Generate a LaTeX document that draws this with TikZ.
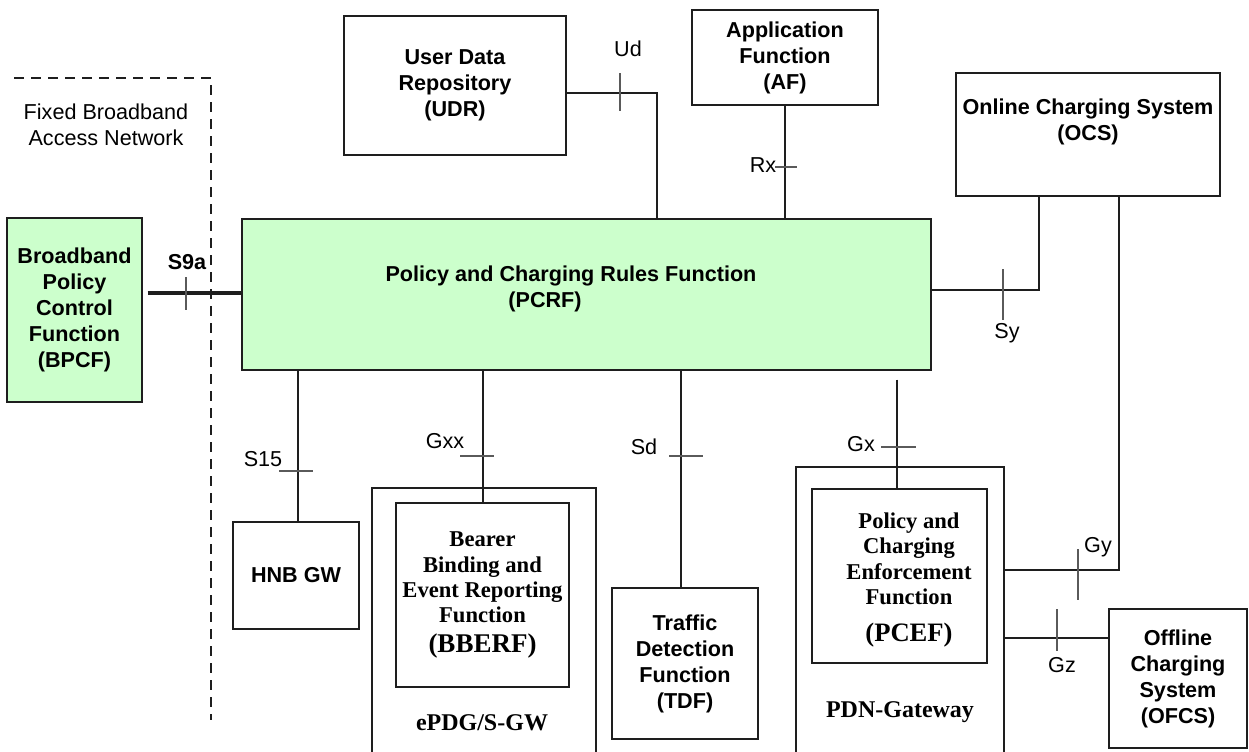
\documentclass[tikz,border=0pt]{standalone}
\usepackage{fontspec}
\setmainfont{Liberation Sans}
\newfontfamily\tms{Liberation Serif}
\definecolor{pcrfgruen}{RGB}{204,255,204}
\definecolor{linie}{RGB}{30,30,30}
\definecolor{strich}{RGB}{90,90,90}
\newdimen\pxu \pxu=0.5pt

\begin{document}
\begin{tikzpicture}[x=0.5pt, y=-0.5pt,
    box/.style={draw=linie, line width=0.7pt, inner sep=0pt, align=center, font=\bfseries\fontsize{10.8}{13}\selectfont},
    gruenbox/.style={box, fill=pcrfgruen},
    tmsbox/.style={box, font=\tms\bfseries\fontsize{11.3}{12.7}\selectfont},
    boxtext/.style={inner sep=0pt, align=center, font=\bfseries\fontsize{10.8}{13}\selectfont},
    tmstext/.style={inner sep=0pt, font=\tms\bfseries\fontsize{12}{14}\selectfont},
    ref/.style={inner sep=0pt, align=center, font=\fontsize{10.8}{13}\selectfont},
    conn/.style={draw=linie, line width=0.7pt},
    tick/.style={draw=strich, line width=0.6pt}]
    \useasboundingbox (0,0) rectangle (1249,751);

    % Fixed Broadband Access Network
    \draw[linie, line width=0.7pt, dash pattern=on 5pt off 3.5pt] (14,78) -- (211,78) -- (211,720);
    \node[ref] (fban) at (106,125) {Fixed Broadband\\Access Network};

    \node[gruenbox, minimum width=135\pxu, minimum height=184\pxu] (bpcf) at (74.5,310) {Broadband\\Policy\\Control\\Function\\(BPCF)};

    \node[gruenbox, minimum width=689\pxu, minimum height=151\pxu] (pcrf) at (586.5,294.5) {};
    \node[boxtext] (pcrftxt) at (571,289) {Policy and Charging Rules Function\\(PCRF)\hspace*{52\pxu}};

    % obere Reihe
    \node[box, minimum width=222\pxu, minimum height=139\pxu] (udr) at (455,85.5) {User Data\\Repository\\(UDR)};
    \node[box, minimum width=186\pxu, minimum height=95\pxu] (af) at (785,57.5) {Application\\Function\\(AF)};
    \node[box, minimum width=264\pxu, minimum height=123\pxu] (ocs) at (1088,134.5) {};
    \node[boxtext] (ocstxt) at (1088,121.5) {Online Charging System\\(OCS)};

    % untere Reihe
    \node[box, minimum width=126\pxu, minimum height=107\pxu] (hnb) at (296,575.5) {HNB GW};

    \node[box, minimum width=224\pxu, minimum height=292\pxu] (epdg) at (484,634) {};
    \node[tmstext] (epdgtxt) at (482,723) {ePDG/S-GW};
    \node[tmsbox, minimum width=173\pxu, minimum height=184\pxu] (bberf) at (482.5,595) {Bearer\\Binding and\\Event Reporting\\Function\\[2pt]{\fontsize{13.5}{15}\selectfont (BBERF)}};

    \node[box, minimum width=146\pxu, minimum height=151\pxu] (tdf) at (685,663.5) {Traffic\\Detection\\Function\\(TDF)};

    \node[box, minimum width=208\pxu, minimum height=313\pxu] (pdn) at (900,623.5) {};
    \node[tmstext] (pdntxt) at (900,712) {PDN-Gateway};
    \node[box, minimum width=175\pxu, minimum height=174\pxu] (pcef) at (899.5,576) {};
    \node[tmstext, align=center, font=\tms\bfseries\fontsize{11.3}{12.7}\selectfont] (pceftxt) at (909,580) {Policy and\\Charging\\Enforcement\\Function\\[6pt]{\fontsize{13.3}{15}\selectfont (PCEF)}};

    \node[box, minimum width=138\pxu, minimum height=139\pxu] (ofcs) at (1178,678.5) {Offline\\Charging\\System\\(OFCS)};

    % S9a
    \coordinate (s9k) at (186,293);
    \draw[linie, line width=2pt, shorten <=2.5pt] (bpcf.east |- s9k) -- (pcrf.west |- s9k);
    \draw[tick] (186,277) -- (186,310);
    \node[ref, font=\bfseries\fontsize{10.8}{13}\selectfont] (ls9a) at (187,262) {S9a};

    % Ud
    \coordinate (udk) at (657,93);
    \draw[conn] (udr.east |- udk) -- (udk) -- (pcrf.north -| udk);
    \draw[tick] (620,73) -- (620,111);
    \node[ref] (lud) at (628,49) {Ud};

    % Rx
    \draw[conn] (af.south) -- (pcrf.north -| af.south);
    \draw[tick] (775,167) -- (797,167);
    \node[ref] (lrx) at (763,165) {Rx};

    % Sy
    \coordinate (syk) at (1039,290);
    \draw[conn] (pcrf.east |- syk) -- (syk) -- (ocs.south -| syk);
    \draw[tick] (1003,269) -- (1003,320);
    \node[ref] (lsy) at (1007,333) {Sy};

    % Gy
    \coordinate (gyk) at (1119,570);
    \draw[conn] (ocs.south -| gyk) -- (gyk) -- (pdn.east |- gyk);
    \draw[tick] (1078,549) -- (1078,600);
    \node[ref] (lgy) at (1098,547) {Gy};

    % Gz
    \coordinate (gzk) at (1057,638);
    \draw[conn] (pdn.east |- gzk) -- (ofcs.west |- gzk);
    \draw[tick] (1057,609) -- (1057,651);
    \node[ref] (lgz) at (1062,665) {Gz};

    % Gx
    \coordinate (gxk) at (897,447);
    \draw[conn, shorten <=4.5pt] (pcrf.south -| gxk) -- (pcef.north -| gxk);
    \draw[tick] (881,447) -- (916,447);
    \node[ref] (lgx) at (861,444) {Gx};

    % Sd
    \coordinate (sdk) at (681,456);
    \draw[conn] (pcrf.south -| sdk) -- (tdf.north -| sdk);
    \draw[tick] (669,456) -- (703,456);
    \node[ref] (lsd) at (644,447) {Sd};

    % Gxx
    \coordinate (gxxk) at (483,456);
    \draw[conn] (pcrf.south -| gxxk) -- (bberf.north -| gxxk);
    \draw[tick] (460,456) -- (494,456);
    \node[ref] (lgxx) at (445,441) {Gxx};

    % S15
    \coordinate (s15k) at (298,471);
    \draw[conn] (pcrf.south -| s15k) -- (hnb.north -| s15k);
    \draw[tick] (279,471) -- (313,471);
    \node[ref] (ls15) at (263,459) {S15};

\end{tikzpicture}
\end{document}
